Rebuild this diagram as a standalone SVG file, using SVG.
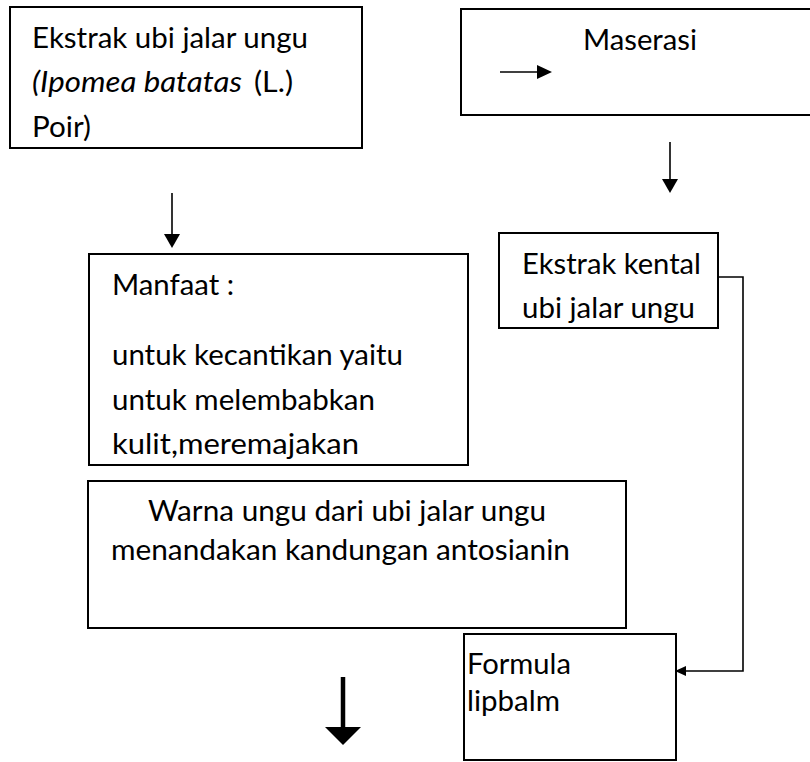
<svg xmlns="http://www.w3.org/2000/svg" width="810" height="762" viewBox="0 0 810 762">
<style>
.box{fill:#fff;stroke:#000;stroke-width:2}
.t{font-family:Lato,"Open Sans","Liberation Sans",sans-serif;font-size:28.5px;fill:#000}
.it{font-style:italic}
.ln{stroke:#000;stroke-width:1.6;fill:none}
.ah{fill:#000}
</style>
<defs>
<clipPath id="clipManfaat"><rect x="90" y="255" width="377" height="209"/></clipPath>
</defs>
<rect width="810" height="762" fill="#fff"/>

<g id="ekstrak">
<rect class="box" x="10" y="7" width="352" height="141"/>
<text class="t" x="32" y="48" textLength="276" lengthAdjust="spacingAndGlyphs">Ekstrak ubi jalar ungu</text>
<text class="t it" x="32" y="92" textLength="210" lengthAdjust="spacingAndGlyphs">(Ipomea batatas</text>
<text class="t" x="254" y="92" textLength="39" lengthAdjust="spacingAndGlyphs">(L.)</text>
<text class="t" x="32" y="137" textLength="59" lengthAdjust="spacingAndGlyphs">Poir)</text>
</g>

<g id="maserasi">
<rect class="box" x="461" y="9" width="352" height="106"/>
<text class="t" x="583" y="50" textLength="114" lengthAdjust="spacingAndGlyphs">Maserasi</text>
</g>

<g id="manfaat">
<rect class="box" x="89" y="254" width="379" height="211"/>
<g clip-path="url(#clipManfaat)">
<text class="t" x="112" y="295" textLength="122" lengthAdjust="spacingAndGlyphs">Manfaat :</text>
<text class="t" x="112" y="365" textLength="291" lengthAdjust="spacingAndGlyphs">untuk kecantikan yaitu</text>
<text class="t" x="112" y="410" textLength="263" lengthAdjust="spacingAndGlyphs">untuk melembabkan</text>
<text class="t" x="112" y="454" textLength="247" lengthAdjust="spacingAndGlyphs">kulit,meremajakan</text>
</g>
</g>

<g id="kental">
<rect class="box" x="499" y="233" width="219" height="95"/>
<text class="t" x="522" y="274" textLength="179" lengthAdjust="spacingAndGlyphs">Ekstrak kental</text>
<text class="t" x="522" y="318" textLength="173" lengthAdjust="spacingAndGlyphs">ubi jalar ungu</text>
</g>

<g id="warna">
<rect class="box" x="88" y="481" width="538" height="147"/>
<text class="t" x="148" y="521" textLength="398" lengthAdjust="spacingAndGlyphs">Warna ungu dari ubi jalar ungu</text>
<text class="t" x="111" y="560" textLength="459" lengthAdjust="spacingAndGlyphs">menandakan kandungan antosianin</text>
</g>

<g id="formula">
<rect class="box" x="464" y="634" width="212" height="126"/>
<text class="t" x="467" y="674" textLength="104" lengthAdjust="spacingAndGlyphs">Formula</text>
<text class="t" x="467" y="711" textLength="93" lengthAdjust="spacingAndGlyphs">lipbalm</text>
</g>

<g id="connectors">
<line class="ln" x1="500" y1="72" x2="539" y2="72"/>
<polygon class="ah" points="537,65 552,72 537,79"/>
<line class="ln" x1="670" y1="142" x2="670" y2="181"/>
<polygon class="ah" points="662,179 678,179 670,193"/>
<line class="ln" x1="172" y1="193" x2="172" y2="236"/>
<polygon class="ah" points="164,234 180,234 172,248"/>
<line x1="343" y1="677" x2="343" y2="729" stroke="#000" stroke-width="4.5"/>
<polygon class="ah" points="325,727 361,727 343,745"/>
<polyline class="ln" points="718,277 743,277 743,671 684,671" stroke-width="2"/>
<polygon class="ah" points="686,666 675,671 686,676"/>
</g>
</svg>
